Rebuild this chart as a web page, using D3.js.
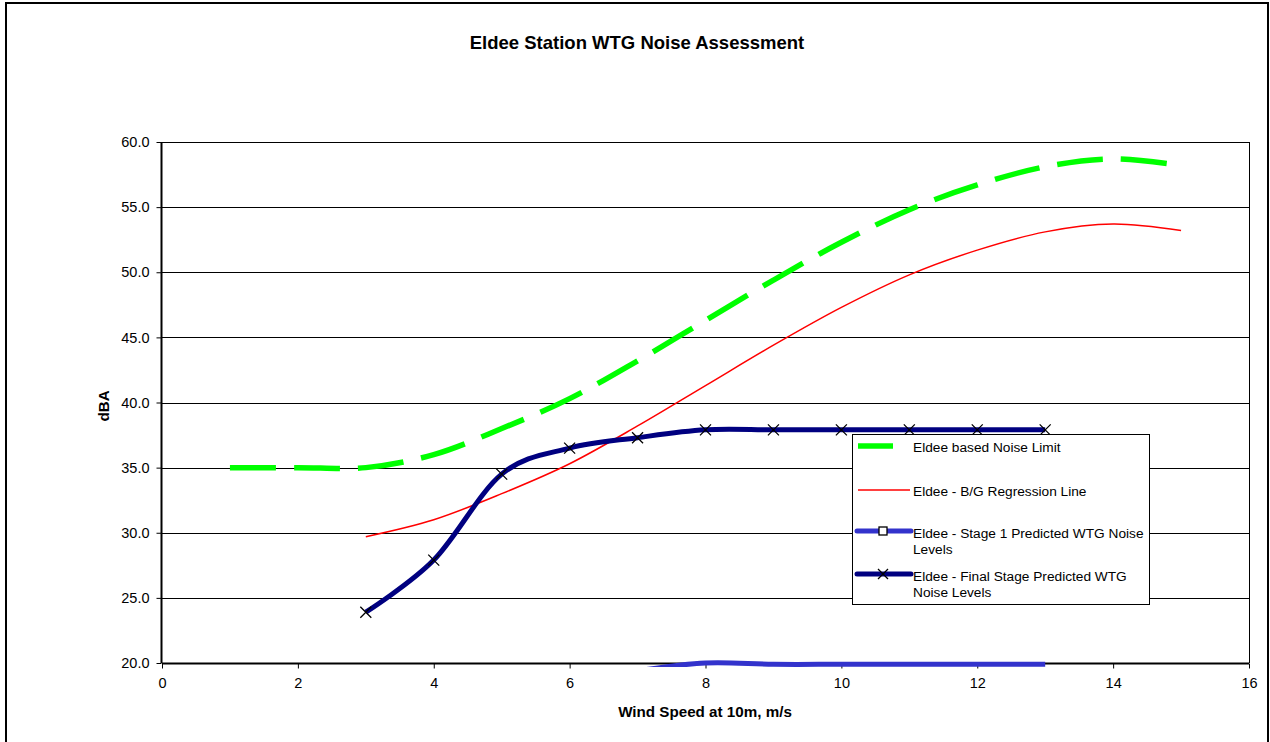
<!DOCTYPE html>
<html>
<head>
<meta charset="utf-8">
<script src="https://cdn.jsdelivr.net/npm/d3@7"></script>
<style>
  html, body { margin: 0; padding: 0; background: #fff; }
  svg { display: block; font-family: "Liberation Sans", Arial, sans-serif; }
</style>
</head>
<body>
<svg id="chart" width="1270" height="742"></svg>
<script>
// ---- Data ----
const chartTitle = "Eldee Station WTG Noise Assessment";
const xTitle = "Wind Speed at 10m, m/s";
const yTitle = "dBA";
const xTicks = [0, 2, 4, 6, 8, 10, 12, 14, 16];
const yTicks = [20, 25, 30, 35, 40, 45, 50, 55, 60];

const limitX = [1, 2, 3, 4, 5, 6, 7, 8, 9, 10, 11, 12, 13, 14, 15];
const limitY = [35.0, 35.0, 35.0, 36.0, 38.0, 40.3, 43.2, 46.3, 49.4, 52.3, 54.8, 56.7, 58.1, 58.7, 58.2];

const regX = [3, 4, 5, 6, 7, 8, 9, 10, 11, 12, 13, 14, 15];
const regY = [29.7, 31.0, 33.0, 35.3, 38.2, 41.3, 44.4, 47.3, 49.8, 51.7, 53.1, 53.7, 53.2];

const stage1X = [7, 8, 9, 10, 11, 12, 13];
const stage1Y = [19.4, 20.0, 19.9, 19.9, 19.9, 19.9, 19.9];

const finalX = [3, 4, 5, 6, 7, 8, 9, 10, 11, 12, 13];
const finalY = [23.9, 27.9, 34.5, 36.5, 37.3, 37.9, 37.9, 37.9, 37.9, 37.9, 37.9];

const legendLabels = [
  ["Eldee based Noise Limit"],
  ["Eldee - B/G Regression Line"],
  ["Eldee - Stage 1 Predicted WTG Noise", "Levels"],
  ["Eldee - Final Stage Predicted WTG", "Noise Levels"]
];

// ---- Layout ----
const svg = d3.select("#chart");
const L = 162, R = 1249, T = 142, B = 663;
const x = d3.scaleLinear().domain([0, 16]).range([L, R]);
const y = d3.scaleLinear().domain([20, 60]).range([B, T]);

const zip = (xs, ys) => xs.map((v, i) => [v, ys[i]]);
const line = d3.line().x(d => x(d[0])).y(d => y(d[1])).curve(d3.curveCatmullRom.alpha(0));

// outer frame
svg.append("rect").attr("x", 6).attr("y", 3).attr("width", 1262).attr("height", 760)
  .attr("fill", "#fff").attr("stroke", "#000").attr("stroke-width", 2);

// title
svg.append("text").attr("x", 637).attr("y", 49).attr("text-anchor", "middle")
  .attr("font-size", 18.5).attr("font-weight", "bold").text(chartTitle);

// gridlines
svg.append("g").selectAll("line").data(yTicks.filter(v => v > 20)).join("line")
  .attr("x1", L).attr("x2", R)
  .attr("y1", d => Math.round(y(d)) + 0.5).attr("y2", d => Math.round(y(d)) + 0.5)
  .attr("stroke", "#000").attr("stroke-width", 1);
// right border of plot
svg.append("line").attr("x1", R + 0.5).attr("x2", R + 0.5).attr("y1", T).attr("y2", B)
  .attr("stroke", "#000").attr("stroke-width", 1);

// axes
const xAxis = d3.axisBottom(x).tickValues(xTicks).tickFormat(d3.format("d")).tickSize(5).tickPadding(9);
const yAxis = d3.axisLeft(y).tickValues(yTicks).tickFormat(d3.format(".1f")).tickSize(5).tickPadding(7);
const gx = svg.append("g").attr("transform", `translate(0,${Math.round(B) + 0.5})`).call(xAxis);
const gy = svg.append("g").attr("transform", `translate(${L - 0.5},0)`).call(yAxis);
[gx, gy].forEach(g => {
  g.select(".domain").attr("stroke", "#000").attr("stroke-width", 2);
  g.selectAll(".tick line").attr("stroke", "#000");
  g.selectAll(".tick text").attr("font-size", 14.5).attr("fill", "#000")
    .attr("font-family", "'Liberation Sans', Arial, sans-serif");
});
gy.select(".domain").attr("d", `M0,${T}V${B}`);
gx.select(".domain").attr("d", `M${L},0H${R}`);

// axis titles
svg.append("text").attr("x", 705).attr("y", 717).attr("text-anchor", "middle")
  .attr("font-size", 15.2).attr("font-weight", "bold").text(xTitle);
svg.append("text").attr("transform", "translate(109,406) rotate(-90)").attr("text-anchor", "middle")
  .attr("font-size", 15.2).attr("font-weight", "bold").text(yTitle);

// clip for stage 1
svg.append("defs").append("clipPath").attr("id", "clip")
  .append("rect").attr("x", L).attr("y", T).attr("width", R - L).attr("height", B - T + 4);

// series
svg.append("path").datum(zip(limitX, limitY)).attr("d", line)
  .attr("fill", "none").attr("stroke", "#00FF00").attr("stroke-width", 5.5)
  .attr("stroke-dasharray", "46,18");
svg.append("path").datum(zip(regX, regY)).attr("d", line)
  .attr("fill", "none").attr("stroke", "#FF0000").attr("stroke-width", 1.5);
svg.append("path").datum(zip(stage1X, stage1Y)).attr("d", line).attr("clip-path", "url(#clip)")
  .attr("fill", "none").attr("stroke", "#3333CC").attr("stroke-width", 5);
svg.append("path").datum(zip(finalX, finalY)).attr("d", line)
  .attr("fill", "none").attr("stroke", "#000080").attr("stroke-width", 5);

function xMark(g, cx, cy, s) {
  g.append("path").attr("d", `M${cx - s},${cy - s}L${cx + s},${cy + s}M${cx - s},${cy + s}L${cx + s},${cy - s}`)
    .attr("stroke", "#000").attr("stroke-width", 1.3).attr("fill", "none");
}
const mg = svg.append("g");
zip(finalX, finalY).forEach(d => xMark(mg, x(d[0]), y(d[1]), 5.5));

// legend
const lg = svg.append("g");
lg.append("rect").attr("x", 852.5).attr("y", 434.5).attr("width", 297).attr("height", 170)
  .attr("fill", "#fff").attr("stroke", "#000").attr("stroke-width", 1);
const symY = [446, 490, 531, 574];
const textRows = [[447], [491], [533, 549], [576, 592]];
// symbols
lg.append("line").attr("x1", 858).attr("x2", 893).attr("y1", symY[0]).attr("y2", symY[0])
  .attr("stroke", "#00FF00").attr("stroke-width", 5.5);
lg.append("line").attr("x1", 858).attr("x2", 910).attr("y1", symY[1]).attr("y2", symY[1])
  .attr("stroke", "#FF0000").attr("stroke-width", 1.5);
lg.append("line").attr("x1", 857).attr("x2", 911).attr("y1", symY[2]).attr("y2", symY[2])
  .attr("stroke", "#3333CC").attr("stroke-width", 5).attr("stroke-linecap", "round");
lg.append("rect").attr("x", 879).attr("y", symY[2] - 4).attr("width", 8).attr("height", 8)
  .attr("fill", "#fff").attr("stroke", "#000").attr("stroke-width", 1.3);
lg.append("line").attr("x1", 857).attr("x2", 911).attr("y1", symY[3]).attr("y2", symY[3])
  .attr("stroke", "#000080").attr("stroke-width", 5).attr("stroke-linecap", "round");
xMark(lg, 883, symY[3], 5);
// labels
legendLabels.forEach((lines, i) => {
  lines.forEach((t, j) => {
    lg.append("text").attr("x", 913).attr("y", textRows[i][j]).attr("dy", "0.35em")
      .attr("font-size", 13.7).attr("fill", "#000").text(t);
  });
});
</script>
</body>
</html>
